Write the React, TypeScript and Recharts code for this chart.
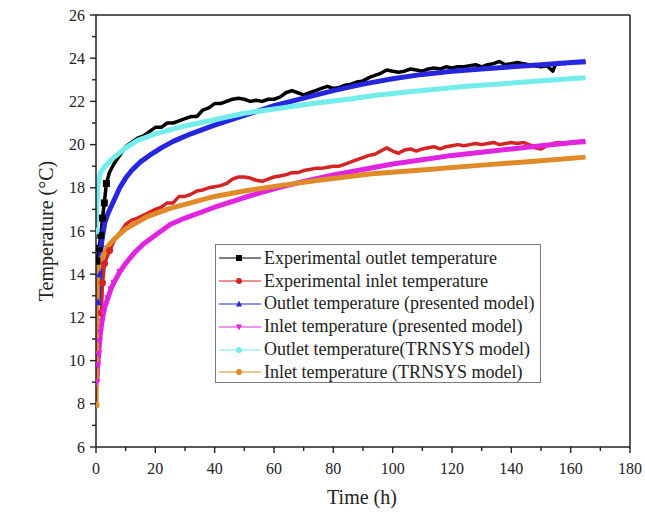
import { LineChart, Line, XAxis, YAxis, ReferenceLine, Label } from 'recharts';

// [time (h), temperature (°C)]
const expOutlet: [number, number][] = [
  [0.3, 14.6], [1, 15.2], [1.6, 15.8], [2.2, 16.6], [2.8, 17.3], [3.5, 18.2], [4.5, 18.7], [6, 19.1], [8, 19.5],
  [10, 19.9], [12, 20.1], [14, 20.3], [16, 20.4], [18, 20.6], [20, 20.8], [22, 20.8], [24, 21.0],
  [26, 21.0], [28, 21.1], [30, 21.2], [32, 21.3], [34, 21.3], [36, 21.6], [38, 21.7], [40, 21.9],
  [42, 21.9], [44, 22.0], [46, 22.1], [48, 22.15], [50, 22.1], [52, 22.0], [54, 22.05], [56, 22.0],
  [58, 22.1], [60, 22.1], [62, 22.2], [64, 22.4], [66, 22.5], [68, 22.4], [70, 22.3], [72, 22.4],
  [74, 22.5], [76, 22.6], [78, 22.7], [80, 22.6], [82, 22.65], [84, 22.75], [86, 22.8], [88, 22.9],
  [90, 22.95], [92, 23.1], [94, 23.2], [96, 23.3], [98, 23.45], [100, 23.4], [102, 23.35], [104, 23.4],
  [106, 23.5], [108, 23.45], [110, 23.4], [112, 23.5], [114, 23.55], [116, 23.5], [118, 23.6],
  [120, 23.55], [122, 23.6], [124, 23.6], [126, 23.65], [128, 23.7], [130, 23.6], [132, 23.7],
  [134, 23.75], [136, 23.85], [138, 23.7], [140, 23.75], [142, 23.8], [144, 23.75], [146, 23.7],
  [148, 23.65], [150, 23.6], [152, 23.65], [154, 23.4], [155, 23.75], [156, 23.8], [158, 23.75],
  [160, 23.8], [162, 23.8], [165, 23.8],
];

const expInlet: [number, number][] = [
  [1.8, 12.2], [2.2, 13.6], [2.9, 14.5], [4.6, 15.1], [6.3, 15.6], [8, 15.9], [10, 16.3], [12, 16.5],
  [14, 16.6], [17, 16.8], [20, 17.0], [22, 17.1], [24, 17.3], [26, 17.3], [28, 17.6], [30, 17.6],
  [32, 17.7], [34, 17.85], [36, 17.9], [38, 18.0], [40, 18.05], [42, 18.1], [44, 18.2], [46, 18.4],
  [48, 18.5], [50, 18.5], [52, 18.45], [54, 18.35], [56, 18.3], [58, 18.4], [60, 18.5], [62, 18.55],
  [64, 18.6], [66, 18.7], [68, 18.7], [70, 18.8], [72, 18.85], [74, 18.9], [76, 18.9], [78, 18.95],
  [80, 19.0], [82, 19.0], [84, 19.1], [86, 19.2], [88, 19.3], [90, 19.4], [92, 19.5], [94, 19.55],
  [96, 19.7], [98, 19.85], [100, 19.7], [102, 19.6], [104, 19.75], [106, 19.8], [108, 19.7],
  [110, 19.8], [112, 19.85], [114, 19.9], [116, 19.8], [118, 19.9], [120, 19.95], [122, 20.0],
  [124, 19.95], [126, 20.0], [128, 20.05], [130, 20.0], [132, 20.05], [134, 20.1], [136, 20.0],
  [138, 20.05], [140, 20.1], [142, 20.05], [144, 20.1], [146, 20.0], [148, 19.85], [150, 19.8],
  [152, 19.95], [154, 20.05], [156, 20.1], [158, 20.05], [160, 20.1], [165, 20.1],
];

const modelOutlet: [number, number][] = [
  [0.7, 12.7], [1.2, 14.0], [1.8, 15.4], [2.5, 16.0], [3, 16.4], [4, 16.8], [5, 17.1], [6, 17.4],
  [8, 18.0], [10, 18.45], [12, 18.8], [15, 19.2], [18, 19.5], [22, 19.85], [26, 20.15], [32, 20.5],
  [40, 20.9], [50, 21.35], [60, 21.8], [70, 22.15], [80, 22.5], [90, 22.8], [100, 23.05], [110, 23.25],
  [120, 23.4], [130, 23.5], [140, 23.6], [150, 23.7], [165, 23.85],
];

const modelInlet: [number, number][] = [
  [0.3, 9.0], [0.6, 9.8], [0.9, 10.3], [1.2, 10.9], [1.5, 11.3], [2, 11.8], [2.5, 12.2], [3, 12.5],
  [4, 12.9], [5, 13.3], [6, 13.6], [8, 14.1], [10, 14.5], [13, 15.0], [16, 15.4], [20, 15.8],
  [25, 16.3], [30, 16.6], [40, 17.1], [50, 17.55], [60, 17.95], [70, 18.3], [80, 18.6], [90, 18.85],
  [100, 19.1], [110, 19.3], [120, 19.5], [130, 19.65], [140, 19.8], [150, 19.95], [165, 20.15],
];

const trnsysOutlet: [number, number][] = [
  [0, 16.0], [0.3, 17.3], [0.7, 18.2], [1.5, 18.7], [3, 19.0], [6, 19.4], [10, 19.85], [14, 20.2],
  [20, 20.5], [28, 20.8], [40, 21.15], [50, 21.45], [60, 21.65], [73, 21.9], [85, 22.1], [95, 22.3],
  [110, 22.5], [125, 22.7], [140, 22.85], [155, 23.0], [165, 23.1],
];

const trnsysInlet: [number, number][] = [
  [0, 7.95], [0.3, 12.5], [0.7, 14.2], [1.5, 14.6], [2.5, 14.9], [4, 15.3], [6, 15.6], [10, 16.1],
  [17, 16.65], [25, 17.05], [40, 17.6], [50, 17.85], [62, 18.1], [75, 18.35], [93, 18.65],
  [112, 18.85], [130, 19.05], [150, 19.25], [165, 19.42],
];

const xTicks = [0, 10, 20, 30, 40, 50, 60, 70, 80, 90, 100, 110, 120, 130, 140, 150, 160, 170, 180];
const yTicks = [6, 7, 8, 9, 10, 11, 12, 13, 14, 15, 16, 17, 18, 19, 20, 21, 22, 23, 24, 25, 26];

const FONT = '"Liberation Serif", "Times New Roman", serif';

type Shape = 'square' | 'circle' | 'up' | 'down';

const series = [
  { name: 'Experimental outlet temperature', data: expOutlet, color: '#000000', width: 3.5, shape: 'square' as Shape, markUntil: 4 },
  { name: 'Experimental inlet temperature', data: expInlet, color: '#d42424', width: 3.5, shape: 'circle' as Shape, markUntil: 5 },
  { name: 'Outlet temperature (presented model)', data: modelOutlet, color: '#2626e0', width: 5, shape: 'up' as Shape, markUntil: 2 },
  { name: 'Inlet temperature (presented model)', data: modelInlet, color: '#e024e0', width: 5, shape: 'down' as Shape, markUntil: 8 },
  { name: 'Outlet temperature(TRNSYS model)', data: trnsysOutlet, color: '#72ecec', width: 5, shape: 'circle' as Shape, markUntil: 0 },
  { name: 'Inlet temperature (TRNSYS model)', data: trnsysInlet, color: '#e08a28', width: 5, shape: 'circle' as Shape, markUntil: 0 },
];

function Marker({ cx, cy, shape, color, r = 3.5 }: { cx: number; cy: number; shape: Shape; color: string; r?: number }) {
  if (shape === 'square') return <rect x={cx - r} y={cy - r} width={r * 2} height={r * 2} fill={color} />;
  if (shape === 'up') return <polygon points={`${cx},${cy - r - 0.5} ${cx - r},${cy + r - 0.5} ${cx + r},${cy + r - 0.5}`} fill={color} />;
  if (shape === 'down') return <polygon points={`${cx},${cy + r + 0.5} ${cx - r},${cy - r + 0.5} ${cx + r},${cy - r + 0.5}`} fill={color} />;
  return <circle cx={cx} cy={cy} r={r} fill={color} />;
}

function XTick(props: any) {
  const { x, y, payload } = props;
  const major = payload.value % 20 === 0;
  return (
    <g>
      <line x1={x} y1={y} x2={x} y2={y + (major ? 6 : 4)} stroke="#222" strokeWidth={1.4} />
      {major && (
        <text x={x} y={y + 27} textAnchor="middle" fontFamily={FONT} fontSize={16} fill="#222">
          {payload.value}
        </text>
      )}
    </g>
  );
}

function YTick(props: any) {
  const { x, y, payload } = props;
  const major = payload.value % 2 === 0;
  return (
    <g>
      <line x1={x} y1={y} x2={x - (major ? 6 : 4)} y2={y} stroke="#222" strokeWidth={1.4} />
      {major && (
        <text x={x - 11} y={y + 5.5} textAnchor="end" fontFamily={FONT} fontSize={16} fill="#222">
          {payload.value}
        </text>
      )}
    </g>
  );
}

function LegendBox() {
  return (
    <div
      style={{
        position: 'absolute', left: 215, top: 244, width: 326, height: 139,
        border: '1px solid #7a7a7a', background: '#fff', boxSizing: 'border-box',
        paddingTop: 2,
      }}
    >
      {series.map((s) => (
        <div key={s.name} style={{ display: 'flex', alignItems: 'center', height: 22.8 }}>
          <svg width={48} height={20} style={{ flex: 'none' }}>
            <line x1={3} y1={10} x2={45} y2={10} stroke={s.color} strokeWidth={1.2} />
            <Marker cx={23} cy={10} shape={s.shape} color={s.color} r={3} />
          </svg>
          <span style={{ fontFamily: FONT, fontSize: 18, color: '#222', whiteSpace: 'nowrap' }}>{s.name}</span>
        </div>
      ))}
    </div>
  );
}

export default function App() {
  return (
    <div style={{ position: 'absolute', left: 0, top: 0, width: 645, height: 516, background: '#fff' }}>
      <LineChart width={645} height={516} margin={{ top: 15, right: 15, left: 0, bottom: 0 }}>
        <XAxis
          type="number"
          dataKey="t"
          domain={[0, 180]}
          ticks={xTicks}
          interval={0}
          tickSize={0}
          tickMargin={0}
          tickLine={false}
          tick={<XTick />}
          height={69}
          axisLine={{ stroke: '#222', strokeWidth: 1.5 }}
          allowDataOverflow
        >
          <Label
            content={() => (
              <text x={362} y={504} textAnchor="middle" fontFamily={FONT} fontSize={20} fill="#222">
                Time (h)
              </text>
            )}
          />
        </XAxis>
        <YAxis
          type="number"
          dataKey="v"
          domain={[6, 26]}
          ticks={yTicks}
          interval={0}
          tickSize={0}
          tickMargin={0}
          tickLine={false}
          tick={<YTick />}
          width={96}
          axisLine={{ stroke: '#222', strokeWidth: 1.5 }}
          allowDataOverflow
        >
          <Label
            content={() => (
              <text
                transform="translate(53,231) rotate(-90)"
                textAnchor="middle"
                fontFamily={FONT}
                fontSize={20}
                fill="#222"
              >
                Temperature (°C)
              </text>
            )}
          />
        </YAxis>
        <ReferenceLine y={26} stroke="#222" strokeWidth={1.5} />
        <ReferenceLine x={180} stroke="#222" strokeWidth={1.5} />
        {series.map((s) => (
          <Line
            key={s.name}
            data={s.data.map(([t, v]) => ({ t, v }))}
            dataKey="v"
            type="linear"
            stroke={s.color}
            strokeWidth={s.width}
            strokeLinejoin="round"
            isAnimationActive={false}
            activeDot={false}
            dot={(p: any) =>
              p.payload.t <= s.markUntil || (s.markUntil === 0 && p.payload.t === 0) ? (
                <Marker key={p.index} cx={p.cx} cy={p.cy} shape={s.shape} color={s.color} />
              ) : (
                <g key={p.index} />
              )
            }
          />
        ))}
      </LineChart>
      <LegendBox />
    </div>
  );
}
